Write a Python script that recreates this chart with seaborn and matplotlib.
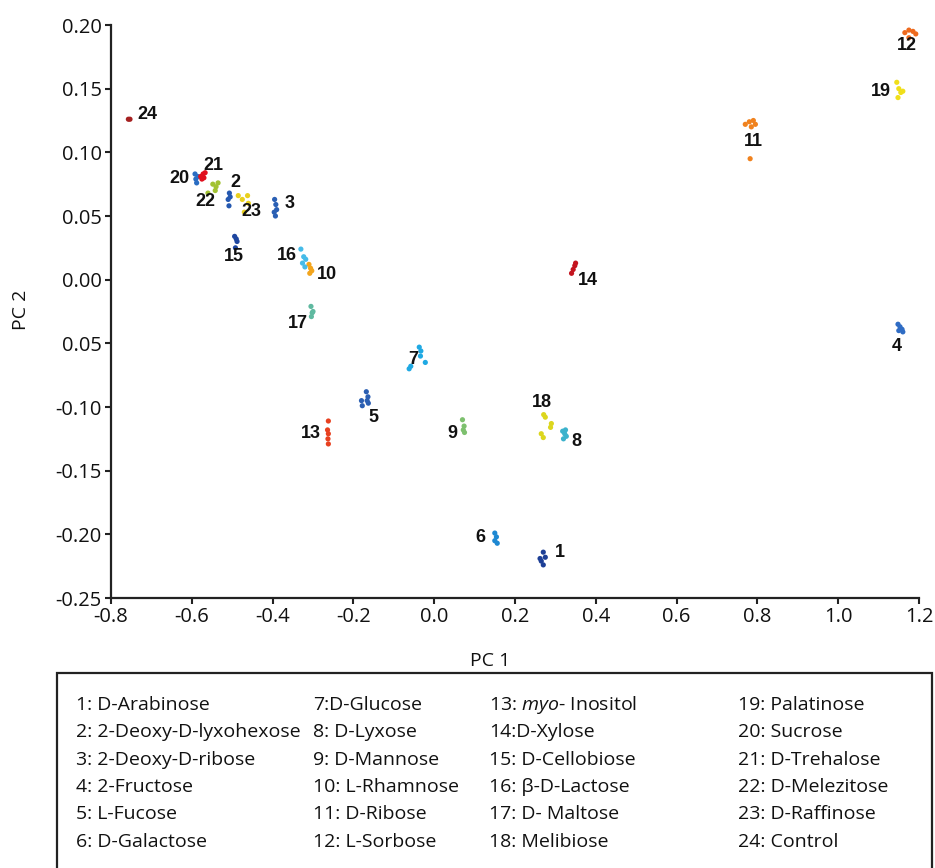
import matplotlib
matplotlib.use("Agg")
import matplotlib.pyplot as plt
import pandas as pd
import seaborn as sns
from matplotlib.patches import Rectangle

# PCA scores, a few replicate points per sugar
pc1 = {
    1: [0.270, 0.275, 0.265, 0.270, 0.262],
    2: [-0.507, -0.505, -0.510, -0.508],
    3: [-0.395, -0.392, -0.390, -0.396, -0.393],
    4: [1.148, 1.153, 1.158, 1.150, 1.160],
    5: [-0.168, -0.164, -0.166, -0.180, -0.178, -0.163],
    6: [0.150, 0.154, 0.150, 0.156],
    7: [-0.037, -0.033, -0.034, -0.022, -0.062, -0.058],
    8: [0.318, 0.323, 0.327, 0.320, 0.325],
    9: [0.070, 0.074, 0.072, 0.075],
    10: [-0.310, -0.306, -0.308, -0.303],
    11: [0.770, 0.780, 0.790, 0.795, 0.785, 0.782],
    12: [1.165, 1.175, 1.185, 1.192, 1.175],
    13: [-0.262, -0.264, -0.262, -0.263, -0.262],
    14: [0.340, 0.344, 0.348, 0.350],
    15: [-0.494, -0.490, -0.488, -0.492],
    16: [-0.330, -0.323, -0.318, -0.326, -0.320],
    17: [-0.305, -0.302, -0.304, -0.300],
    18: [0.271, 0.275, 0.290, 0.288, 0.265, 0.270],
    19: [1.145, 1.150, 1.155, 1.148, 1.160],
    20: [-0.592, -0.590, -0.588, -0.585],
    21: [-0.578, -0.572, -0.567, -0.575, -0.570],
    22: [-0.548, -0.540, -0.535, -0.542, -0.560],
    23: [-0.485, -0.475, -0.462, -0.460, -0.470],
    24: [-0.757, -0.753],
}
pc2 = {
    1: [-0.214, -0.218, -0.221, -0.224, -0.219],
    2: [0.068, 0.065, 0.063, 0.058],
    3: [0.063, 0.059, 0.055, 0.053, 0.050],
    4: [-0.035, -0.037, -0.039, -0.040, -0.041],
    5: [-0.088, -0.092, -0.095, -0.095, -0.099, -0.097],
    6: [-0.199, -0.202, -0.205, -0.207],
    7: [-0.053, -0.056, -0.060, -0.065, -0.070, -0.068],
    8: [-0.119, -0.121, -0.123, -0.125, -0.118],
    9: [-0.110, -0.115, -0.118, -0.120],
    10: [0.012, 0.009, 0.005, 0.007],
    11: [0.122, 0.124, 0.125, 0.122, 0.120, 0.095],
    12: [0.194, 0.196, 0.195, 0.193, 0.190],
    13: [-0.111, -0.118, -0.121, -0.125, -0.129],
    14: [0.005, 0.008, 0.011, 0.013],
    15: [0.034, 0.032, 0.030, 0.025],
    16: [0.024, 0.018, 0.016, 0.013, 0.010],
    17: [-0.021, -0.026, -0.029, -0.025],
    18: [-0.106, -0.108, -0.113, -0.116, -0.121, -0.124],
    19: [0.155, 0.150, 0.147, 0.143, 0.148],
    20: [0.083, 0.079, 0.076, 0.081],
    21: [0.081, 0.083, 0.084, 0.079, 0.080],
    22: [0.075, 0.073, 0.076, 0.070, 0.068],
    23: [0.066, 0.063, 0.066, 0.060, 0.053],
    24: [0.126, 0.126],
}

legend_entries = [
    "1: D-Arabinose", "2: 2-Deoxy-D-lyxohexose", "3: 2-Deoxy-D-ribose",
    "4: 2-Fructose", "5: L-Fucose", "6: D-Galactose",
    "7:D-Glucose", "8: D-Lyxose", "9: D-Mannose",
    "10: L-Rhamnose", "11: D-Ribose", "12: L-Sorbose",
    "13: $\\it{myo}$- Inositol", "14:D-Xylose", "15: D-Cellobiose",
    "16: β-D-Lactose", "17: D- Maltose", "18: Melibiose",
    "19: Palatinose", "20: Sucrose", "21: D-Trehalose",
    "22: D-Melezitose", "23: D-Raffinose", "24: Control",
]

xticks = [-0.8, -0.6, -0.4, -0.2, 0.0, 0.2, 0.4, 0.6, 0.8, 1.0, 1.2]
yticks = [-0.25, -0.20, -0.15, -0.10, -0.05, 0.00, 0.05, 0.10, 0.15, 0.20]
ytick_labels = ["-0.25", "-0.20", "-0.15", "-0.10", "0.05", "0.00", "0.05", "0.10", "0.15", "0.20"]

colors = {
    1: "#1d3f96", 2: "#2458b0", 3: "#2a5fb4", 4: "#2f6cc4", 5: "#2b5fb3",
    6: "#1e88d2", 7: "#1fa9e3", 8: "#3cb2cc", 9: "#7dc06e", 10: "#f3a51d",
    11: "#f0821e", 12: "#ee6a1e", 13: "#e8401f", 14: "#c4141f", 15: "#1e46a0",
    16: "#45bbe8", 17: "#5fb9a0", 18: "#dcd61e", 19: "#f0df1a", 20: "#2a6dc2",
    21: "#e0101e", 22: "#a2c232", 23: "#e9d01e", 24: "#a52020",
}

# label offsets from each cluster in pixels (x right, y up)
label_offsets = {
    1: (17, 6), 2: (6, 16), 3: (14, 6), 4: (-3, -17), 5: (7, -17), 6: (-15, 1),
    7: (-7, 0), 8: (12, -8), 9: (-11, -5), 10: (17, -5), 11: (3, -17),
    12: (-2, -13), 13: (-17, 0), 14: (14, -13), 15: (-2, -16), 16: (-17, 4),
    17: (-14, -11), 18: (-3, 23), 19: (-18, 0), 20: (-17, -1), 21: (10, 11),
    22: (-10, -15), 23: (7, -12), 24: (18, 5),
}

rows = []
for k in pc1:
    for a, b in zip(pc1[k], pc2[k]):
        rows.append({"sugar": k, "PC1": a, "PC2": b})
df = pd.DataFrame(rows)

sns.set_theme(style="white")
plt.rcParams["font.family"] = ["Open Sans", "DejaVu Sans"]
plt.rcParams["mathtext.fontset"] = "custom"
plt.rcParams["mathtext.rm"] = "Open Sans"
plt.rcParams["mathtext.it"] = "Open Sans:italic"

fig = plt.figure(figsize=(9.35, 8.68), dpi=100)
ax = fig.add_axes([111 / 935, (868 - 598) / 868, 808 / 935, 573 / 868])

sns.scatterplot(data=df, x="PC1", y="PC2", hue="sugar", palette=colors,
                s=14, linewidth=0, legend=False, ax=ax)

for k in pc1:
    cx = pd.Series(pc1[k]).median()
    cy = pd.Series(pc2[k]).median()
    ax.annotate(str(k), (cx, cy), xytext=label_offsets[k], textcoords="offset pixels",
                ha="center", va="center", fontsize=13, fontweight="bold",
                family="Liberation Sans", color="#111111")

ax.set_xlim(-0.8, 1.2)
ax.set_ylim(-0.25, 0.20)
ax.set_xticks(xticks)
ax.set_xticklabels([f"{t:.1f}" for t in xticks])
ax.set_yticks(yticks)
ax.set_yticklabels(ytick_labels)
ax.tick_params(axis="both", direction="out", length=4.5, width=1.5, color="#222222",
               labelsize=14.5, labelcolor="#111111", pad=2, bottom=True, left=True)
for side in ["top", "right"]:
    ax.spines[side].set_visible(False)
for side in ["left", "bottom"]:
    ax.spines[side].set_linewidth(1.6)
    ax.spines[side].set_color("#222222")

ax.set_xlabel("PC 1", fontsize=14, color="#111111")
ax.set_ylabel("PC 2", fontsize=14, color="#111111")
ax.xaxis.set_label_coords(0.469, -0.095)
ax.yaxis.set_label_coords(-0.100, 0.503)

# key box under the plot
fig.patches.append(Rectangle((57 / 935, -0.02), 875 / 935, 0.2247 + 0.02,
                             transform=fig.transFigure, fill=False,
                             edgecolor="#222222", linewidth=1.6))
col_x = [76 / 935, 313 / 935, 489 / 935, 738 / 935]
row_y = [1 - y / 868 for y in [705, 732, 760, 787, 814, 842]]
for i, entry in enumerate(legend_entries):
    fig.text(col_x[i // 6], row_y[i % 6], entry, fontsize=14, va="center",
             ha="left", color="#111111")

fig.savefig("out.png", dpi=100)
